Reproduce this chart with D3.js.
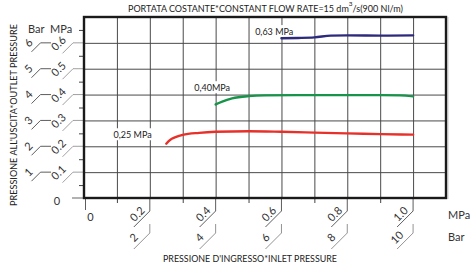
<!DOCTYPE html>
<html>
<head>
<meta charset="utf-8">
<script src="https://cdn.jsdelivr.net/npm/d3@7"></script>
<style>
  body { margin: 0; background: #fff; }
  svg { display: block; font-family: Lato, "Open Sans", sans-serif; }
</style>
</head>
<body>
<svg id="chart" width="471" height="264"></svg>
<script>
// ---- data ----
// inlet pressure (MPa) vs outlet pressure (MPa) for three set points
const lowIn   = [0.25, 0.26, 0.28, 0.30, 0.35, 0.40, 0.50, 0.60, 0.70, 0.80, 0.90, 1.00];
const lowOut  = [0.210, 0.223, 0.236, 0.244, 0.252, 0.256, 0.258, 0.256, 0.253, 0.250, 0.247, 0.245];
const midIn   = [0.40, 0.42, 0.45, 0.50, 0.55, 0.70, 0.90, 0.96, 1.00];
const midOut  = [0.362, 0.373, 0.385, 0.394, 0.397, 0.398, 0.398, 0.397, 0.393];
const highIn  = [0.60, 0.65, 0.70, 0.75, 0.80, 0.90, 1.00];
const highOut = [0.618, 0.619, 0.621, 0.628, 0.629, 0.628, 0.629];
const setLabels = ["0,25 MPa", "0,40MPa", "0,63 MPa"];
const setColors = ["#e8302a", "#17944a", "#2d2a7c"];

const xGrid = [0.1, 0.2, 0.3, 0.4, 0.5, 0.6, 0.7, 0.8, 0.9, 1.0];
const xLabelVals = [0.2, 0.4, 0.6, 0.8, 1.0];
const xMpaLabels = ["0.2", "0.4", "0.6", "0.8", "1.0"];
const xBarLabels = ["2", "4", "6", "8", "10"];
const yLabelVals = [0.1, 0.2, 0.3, 0.4, 0.5, 0.6];
const yMpaLabels = ["0.1", "0.2", "0.3", "0.4", "0.5", "0.6"];
const yBarLabels = ["1", "2", "3", "4", "5", "6"];
const yMinor = [0.05, 0.15, 0.25, 0.35, 0.45, 0.55, 0.65];

const svg = d3.select("#chart");

const x = d3.scaleLinear().domain([0, 1.1]).range([84, 446]);
const y = d3.scaleLinear().domain([0, 0.7]).range([198, 17]);

const plotL = x(0), plotR = x(1.1), plotT = y(0.7), plotB = y(0);

// grid
svg.append("g")
    .attr("transform", `translate(0,${plotB})`)
    .call(d3.axisBottom(x).tickValues(xGrid).tickSize(-(plotB - plotT)).tickFormat(""))
    .call(g => g.select(".domain").remove())
    .call(g => g.selectAll("line").attr("stroke", "#4a4a4a").attr("stroke-width", 1));

svg.append("g")
    .attr("transform", `translate(${plotL},0)`)
    .call(d3.axisLeft(y).tickValues(yLabelVals).tickSize(-(plotR - plotL)).tickFormat(""))
    .call(g => g.select(".domain").remove())
    .call(g => g.selectAll("line").attr("stroke", "#4a4a4a").attr("stroke-width", 1));

// minor ticks on the left, short ticks below
svg.append("g")
    .attr("transform", `translate(${plotL},0)`)
    .call(d3.axisLeft(y).tickValues(yMinor).tickSize(5).tickFormat(""))
    .call(g => g.select(".domain").remove())
    .call(g => g.selectAll("line").attr("stroke", "#444"));

svg.append("g")
    .attr("transform", `translate(0,${plotB})`)
    .call(d3.axisBottom(x).tickValues([0.1, 0.3, 0.5, 0.7, 0.9]).tickSize(5).tickFormat(""))
    .call(g => g.select(".domain").remove())
    .call(g => g.selectAll("line").attr("stroke", "#444"));

// ---- left axis: Bar / MPa slanted labels ----
const ink = "#333";
const fs = 11;
const yl = svg.append("g").attr("stroke", ink).attr("fill", "none").attr("stroke-width", 0.8);
yLabelVals.forEach((v, i) => {
  const yy = y(v);
  yl.append("path").attr("d", `M${plotL},${yy}H73L62.5,${yy + 10.5}`).attr("stroke", "#888");
  yl.append("path").attr("d", `M51,${yy}H40.5L31.5,${yy + 9}`);
  svg.append("text")
      .attr("transform", `translate(58.5,${yy + 0.5}) rotate(-45)`)
      .attr("text-anchor", "middle").attr("dy", "0.35em")
      .attr("font-size", fs).attr("fill", ink)
      .text(yMpaLabels[i]);
  svg.append("text")
      .attr("transform", `translate(28.5,${yy}) rotate(-45)`)
      .attr("text-anchor", "middle").attr("dy", "0.35em")
      .attr("font-size", fs).attr("fill", ink)
      .text(yBarLabels[i]);
});
yl.append("path").attr("d", `M${plotL},${y(0)}H72`).attr("stroke", "#999").attr("stroke-width", 1.5);
svg.append("text").attr("x", 57).attr("y", y(0) + 3).attr("dy", "0.35em")
    .attr("text-anchor", "middle").attr("font-size", fs).attr("fill", ink).text("0");
svg.append("text").attr("x", 28).attr("y", 33).attr("font-size", fs).attr("fill", ink).text("Bar");
svg.append("text").attr("x", 50).attr("y", 33).attr("font-size", fs).attr("fill", ink).text("MPa");

// ---- bottom axis: MPa / Bar slanted labels ----
const xl = svg.append("g").attr("stroke", ink).attr("fill", "none").attr("stroke-width", 0.8);
xLabelVals.forEach((v, i) => {
  const xx = x(v);
  xl.append("path").attr("d", `M${xx},${plotB}V211L${xx - 16},227`);
  xl.append("path").attr("d", `M${xx},224V233L${xx - 16},249`).attr("stroke", "#777");
  svg.append("text")
      .attr("transform", `translate(${xx - 12.5},214) rotate(-45)`)
      .attr("text-anchor", "middle").attr("dy", "0.35em")
      .attr("font-size", fs).attr("fill", ink)
      .text(xMpaLabels[i]);
  svg.append("text")
      .attr("transform", `translate(${xx - 16},237.5) rotate(-45)`)
      .attr("text-anchor", "middle").attr("dy", "0.35em")
      .attr("font-size", fs).attr("fill", ink)
      .text(xBarLabels[i]);
});
xl.append("path").attr("d", `M${x(0) + 1.5},${plotB}V210`);
svg.append("text").attr("x", x(0) + 6.5).attr("y", 217).attr("dy", "0.35em")
    .attr("text-anchor", "middle").attr("font-size", fs).attr("fill", ink).text("0");
svg.append("text").attr("x", 448).attr("y", 215).attr("dy", "0.35em")
    .attr("font-size", fs).attr("fill", ink).text("MPa");
svg.append("text").attr("x", 448).attr("y", 237).attr("dy", "0.35em")
    .attr("font-size", fs).attr("fill", ink).text("Bar");

// ---- curve labels (white box hides the grid behind) ----
const labelAt = [[0.09, 0.233], [0.335, 0.415], [0.52, 0.632]];
labelAt.forEach((p, i) => {
  const t = svg.append("text")
      .attr("x", x(p[0])).attr("y", y(p[1]))
      .attr("font-size", 9).attr("fill", "#222")
      .text(setLabels[i]);
  const b = t.node().getBBox();
  svg.insert("rect", () => t.node())
      .attr("x", b.x - 1.5).attr("y", b.y - 0.5)
      .attr("width", b.width + 3).attr("height", b.height + 1)
      .attr("fill", "#fff");
});

// ---- curves ----
const line = d3.line().x(d => x(d[0])).y(d => y(d[1])).curve(d3.curveMonotoneX);
[[lowIn, lowOut], [midIn, midOut], [highIn, highOut]].forEach((s, i) => {
  svg.append("path")
      .datum(d3.zip(s[0], s[1]))
      .attr("d", line)
      .attr("fill", "none")
      .attr("stroke", setColors[i])
      .attr("stroke-width", 2.4)
      .attr("stroke-linecap", "round");
});

// ---- frame ----
svg.append("line").attr("x1", plotR + 2).attr("x2", plotR + 2).attr("y1", plotT).attr("y2", plotB + 1)
    .attr("stroke", "#ccc");
svg.append("rect")
    .attr("x", plotL).attr("y", plotT)
    .attr("width", plotR - plotL).attr("height", plotB - plotT)
    .attr("fill", "none").attr("stroke", "#1a1a1a").attr("stroke-width", 2.4);

// ---- titles ----
const title = svg.append("text").attr("x", 265.5).attr("y", 12)
    .attr("text-anchor", "middle").attr("font-size", 9).attr("fill", "#222");
title.append("tspan").text("PORTATA COSTANTE*CONSTANT FLOW RATE=15 dm");
title.append("tspan").attr("dy", -6).attr("font-size", 6.5).text("3");
title.append("tspan").attr("dy", 6).text("/s(900 Nl/m)");

svg.append("text")
    .attr("transform", "translate(16.5,115) rotate(-90)")
    .attr("text-anchor", "middle").attr("font-size", 9.1).attr("fill", "#222")
    .text("PRESSIONE ALL'USCITA*OUTLET PRESSURE");

svg.append("text")
    .attr("x", 250).attr("y", 261.5)
    .attr("text-anchor", "middle").attr("font-size", 8.9).attr("fill", "#222")
    .text("PRESSIONE D'INGRESSO*INLET PRESSURE");
</script>
</body>
</html>
